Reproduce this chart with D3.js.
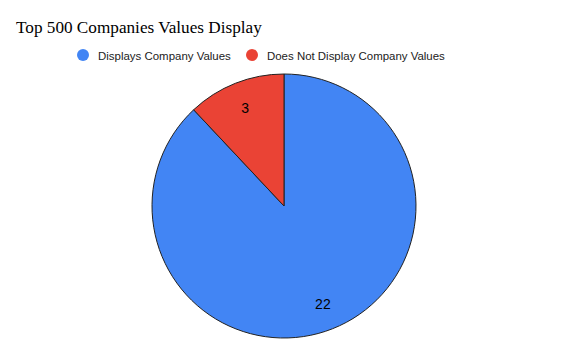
<!DOCTYPE html>
<html><head><meta charset="utf-8">
<script src="https://cdn.jsdelivr.net/npm/d3@7"></script>
<style>body{margin:0;background:#fff}</style>
</head><body>
<svg id="c" width="568" height="358"></svg>
<script>
const categories = ["Displays Company Values", "Does Not Display Company Values"];
const values = [22, 3];
const colors = ["#4285F4", "#EA4335"];
const title = "Top 500 Companies Values Display";

const svg = d3.select("#c");
svg.append("rect").attr("width",568).attr("height",358).attr("fill","#fff");
const t = svg.append("text").attr("x",16).attr("y",33)
  .attr("font-family","'Liberation Serif','Times New Roman',serif")
  .attr("font-size",18).attr("fill","#000").text(title);
const tw = t.node().getComputedTextLength();
t.attr("font-size", 18*246/tw);

// legend
const legX = [83, 252];
const legW = [133, 178];
categories.forEach((c,i)=>{
  const g = svg.append("g");
  g.append("circle").attr("cx",legX[i]).attr("cy",55).attr("r",6).attr("fill",colors[i]);
  const lt = g.append("text").attr("x",legX[i]+15).attr("y",59.5)
   .attr("font-family","'Liberation Sans',Arial,sans-serif").attr("font-size",12)
   .attr("fill","#222").text(c);
  const w = lt.node().getComputedTextLength();
  lt.attr("font-size", 12*legW[i]/w);
});

const cx=284, cy=206, r=132;
const pie = d3.pie().sort(null).value(d=>d);
const arcs = pie(values);
const arc = d3.arc().innerRadius(0).outerRadius(r);
const labelArc = d3.arc().innerRadius(r*0.8).outerRadius(r*0.8);
const g = svg.append("g").attr("transform",`translate(${cx},${cy})`);
g.selectAll("path").data(arcs).join("path")
  .attr("d",arc).attr("fill",(d,i)=>colors[i])
  .attr("stroke","#222").attr("stroke-width",1);
g.selectAll("text").data(arcs).join("text")
  .attr("transform",d=>`translate(${labelArc.centroid(d)})`)
  .attr("text-anchor","middle").attr("dy","0.35em")
  .attr("font-family","'Liberation Sans',Arial,sans-serif").attr("font-size",14)
  .attr("fill","#000").text(d=>d.value);
</script>
</body></html>
